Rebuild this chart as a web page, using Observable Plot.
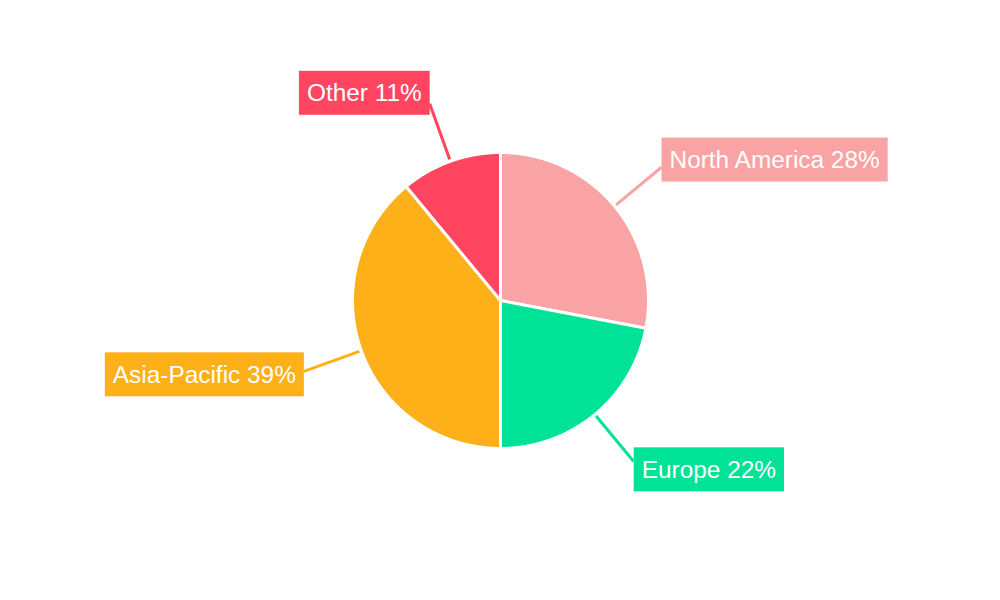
<!DOCTYPE html>
<html>
<head>
<meta charset="utf-8">
<script src="https://cdn.jsdelivr.net/npm/d3@7"></script>
<script src="https://cdn.jsdelivr.net/npm/@observablehq/plot@0.6"></script>
<style>
  html, body { margin: 0; padding: 0; background: #fff; }
  #chart { width: 1000px; height: 600px; }
</style>
</head>
<body>
<div id="chart"></div>
<script>
// ---- data ----
const regions = ["North America", "Europe", "Asia-Pacific", "Other"];
const shares = [28, 22, 39, 11];
const colors = ["#F9A3A4", "#00E396", "#FEB019", "#FF4560"];

const table = regions.map((name, i) => ({name, share: shares[i], color: colors[i]}));

const R = 148;      // pie radius (px units)
const R0 = 150;     // leader start
const R1 = 209;     // leader end
const BOX_H = 44, PAD = 8, FONT = 24.4;

const arcs = d3.pie().sort(null).value(d => d.share)(table);

// slice polygons
const slicePts = [];
arcs.forEach(a => {
  const n = a.data.name;
  slicePts.push({name: n, x: 0, y: 0});
  const steps = d3.range(a.startAngle, a.endAngle, 0.004).concat([a.endAngle]);
  steps.forEach(t => slicePts.push({name: n, x: R * Math.sin(t), y: R * Math.cos(t)}));
  slicePts.push({name: n, x: 0, y: 0});
});

// leaders & labels
const leaders = arcs.map(a => {
  const m = (a.startAngle + a.endAngle) / 2;
  const s = Math.sin(m), c = Math.cos(m);
  const f = 0.5 + 0.25 * c;     // where the leader meets the box edge (0 top .. 1 bottom)
  return {
    name: a.data.name,
    label: `${a.data.name} ${a.data.share}%`,
    color: a.data.color,
    x1: R0 * s, y1: R0 * c,
    x2: R1 * s, y2: R1 * c,
    ty: R1 * c + (f - 0.5) * BOX_H,
    right: s >= 0
  };
});

const plot = Plot.plot({
  width: 1000,
  height: 600,
  margin: 0,
  x: {domain: [-500, 500], axis: null},
  y: {domain: [-300, 300], axis: null},
  color: {domain: regions, range: colors},
  style: {fontFamily: "'Liberation Sans', Arial, sans-serif", background: "#fff"},
  marks: [
    Plot.line(slicePts, {x: "x", y: "y", z: "name", fill: "name", stroke: "#fff", strokeWidth: 3, strokeLinejoin: "round", curve: "linear"}),
    Plot.link(leaders, {x1: "x1", y1: "y1", x2: "x2", y2: "y2", stroke: "name", strokeWidth: 3}),
    Plot.text(leaders.filter(d => d.right), {x: "x2", y: "ty", text: "label", textAnchor: "start", dx: PAD, fill: "#fff", fontSize: FONT, fontFamily: "'Liberation Sans', Arial, sans-serif"}),
    Plot.text(leaders.filter(d => !d.right), {x: "x2", y: "ty", text: "label", textAnchor: "end", dx: -PAD, fill: "#fff", fontSize: FONT, fontFamily: "'Liberation Sans', Arial, sans-serif"})
  ]
});

document.getElementById("chart").appendChild(plot);

// label boxes behind text
const ns = "http://www.w3.org/2000/svg";
const labelColor = new Map(leaders.map(d => [d.label, d.color]));
plot.querySelectorAll('g[aria-label="text"] text').forEach(t => {
  const bb = t.getBBox();
  const ctm = t.transform.baseVal.consolidate();
  const tx = ctm ? ctm.matrix.e : 0, ty = ctm ? ctm.matrix.f : 0;
  const cy = bb.y + bb.height / 2;
  const r = document.createElementNS(ns, "rect");
  r.setAttribute("x", tx + bb.x - PAD);
  r.setAttribute("y", ty + cy - BOX_H / 2);
  r.setAttribute("width", bb.width + 2 * PAD);
  r.setAttribute("height", BOX_H);
  r.setAttribute("fill", labelColor.get(t.textContent));
  t.parentNode.insertBefore(r, t);
});
</script>
</body>
</html>
